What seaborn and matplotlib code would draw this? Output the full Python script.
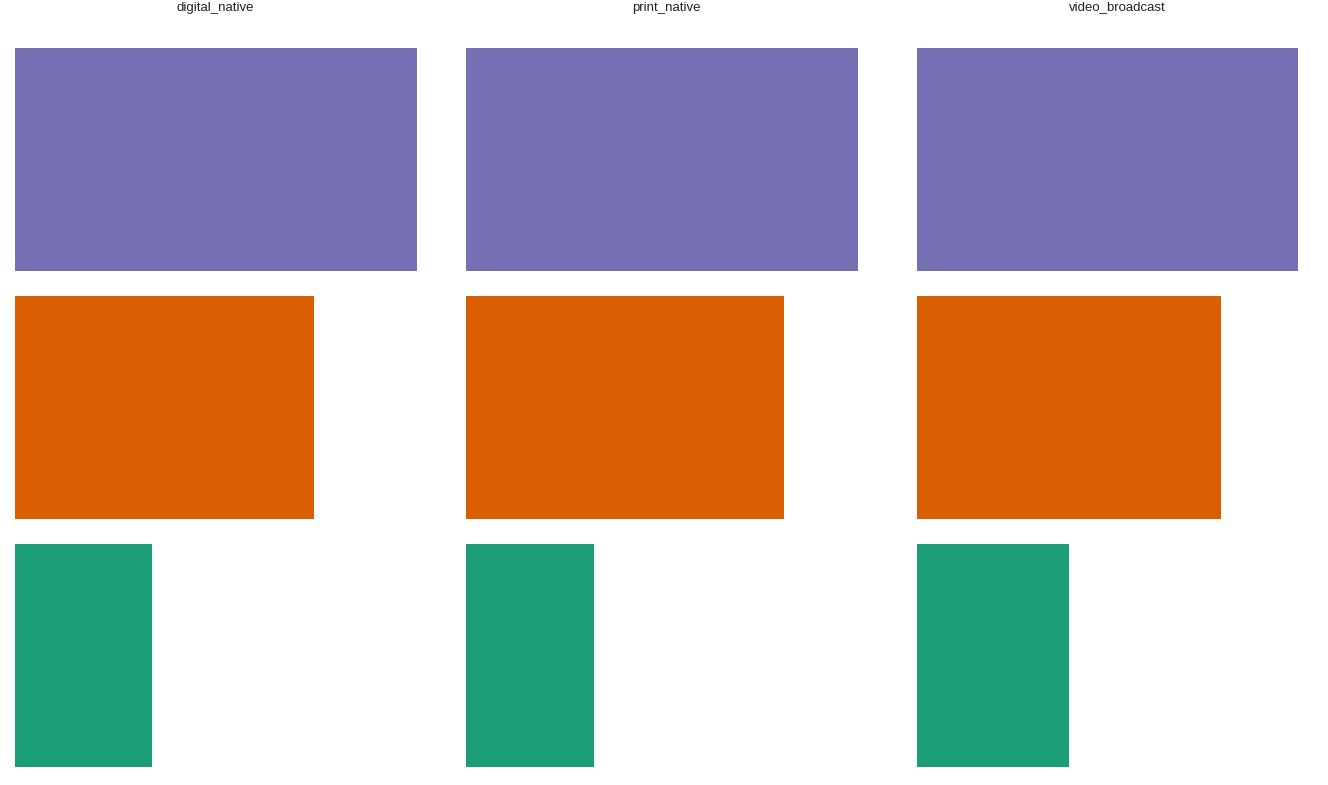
import pandas as pd
import matplotlib
matplotlib.use('Agg')
from matplotlib import pyplot as plt
import seaborn as sns

# shares per group (top to bottom)
groups = ['digital_native', 'print_native', 'video_broadcast']
categories = ['c', 'b', 'a']
digital_native = [0.479, 0.357, 0.164]
print_native = [0.468, 0.379, 0.153]
video_broadcast = [0.455, 0.363, 0.182]
colors = ['#7570b3', '#d95f02', '#1b9e77']

rows = []
for group, vals in zip(groups, [digital_native, print_native, video_broadcast]):
    for cat, v in zip(categories, vals):
        rows.append([group, cat, v])
df = pd.DataFrame(rows, columns=['group', 'category', 'share'])

sns.set_style('white')
plt.rcParams['font.family'] = ['Liberation Sans', 'DejaVu Sans']

fig, axes = plt.subplots(nrows=1, ncols=3, figsize=(13.28, 7.85), dpi=100, sharex=True)
fig.subplots_adjust(left=14.5/1328, right=1318.5/1328, top=1-48/785, bottom=18/785,
                    wspace=49/402)

xmax = df['share'].max()
for ax, group in zip(axes, groups):
    sns.barplot(
        data=df[df['group'] == group],
        x='share',
        y='category',
        hue='category',
        order=categories,
        hue_order=categories,
        palette=colors,
        width=0.9,
        orient='h',
        legend=False,
        saturation=1,
        linewidth=0,
        ax=ax,
    )
    ax.set_xlim(0, xmax)
    ax.set_ylim(2.45, -0.45)
    ax.set_title(group, fontsize=9.5, color='#222222', pad=27)
    ax.set_xlabel('')
    ax.set_ylabel('')
    ax.set_xticks([])
    ax.set_yticks([])
    sns.despine(ax=ax, left=True, bottom=True)

plt.savefig('out.png', dpi=100)
plt.close()
